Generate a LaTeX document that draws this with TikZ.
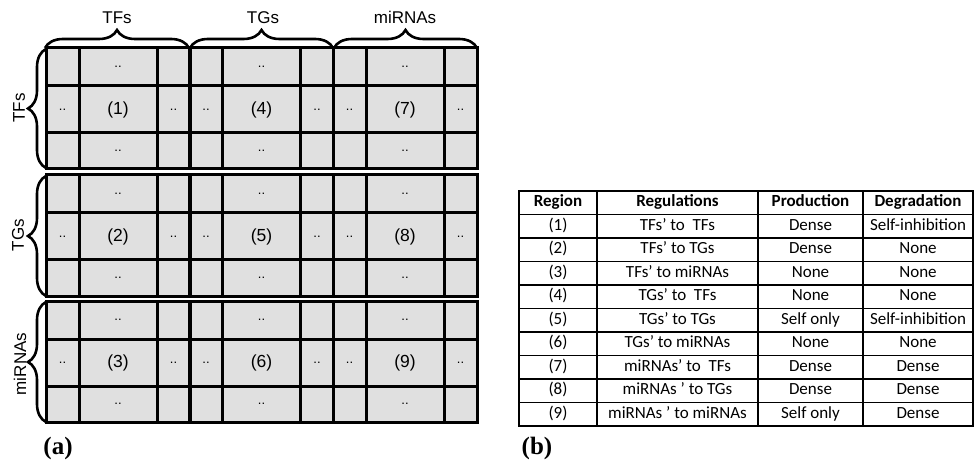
\documentclass[tikz,border=0pt]{standalone}
\usepackage{fontspec}
\setmainfont{Liberation Sans}
\newfontfamily\tabfont{Carlito}
\newfontfamily\capfont{Liberation Serif}
\usetikzlibrary{decorations.pathreplacing}
\definecolor{cellgray}{HTML}{E0E0E0}
\begin{document}
\begin{tikzpicture}[x=1pt,y=-1pt,
  gridline/.style={line width=3pt, black},
  dotlbl/.style={font=\fontsize{13}{13}\selectfont, inner sep=0pt},
  reglbl/.style={font=\fontsize{17.5}{17.5}\selectfont, inner sep=0pt},
  axlbl/.style={font=\fontsize{17}{17}\selectfont, inner sep=0pt},
  bracestyle/.style={decorate, decoration={brace, amplitude=18pt}, line width=2.6pt},
  tcell/.style={font=\tabfont\fontsize{17}{17}\selectfont, inner sep=0pt, text height=8.5pt, text depth=3pt},
  thead/.style={font=\tabfont\bfseries\fontsize{17}{17}\selectfont, inner sep=0pt, text height=8.5pt, text depth=3pt},
  tline/.style={line width=1.5pt, black},
  caplbl/.style={font=\capfont\bfseries\fontsize{25}{25}\selectfont, inner sep=0pt},
  ]
\useasboundingbox (0,0) rectangle (974,462);

% ---- grid (a) ----
\foreach \by [count=\r from 0] in {48,175,301} {
  \fill[cellgray] (46,\by) rectangle (477,\by+121);
  \foreach \bx [count=\c from 0] in {46,189.5,333} {
    \pgfmathtruncatemacro{\n}{\c*3+\r+1}
    \draw[gridline] (\bx,\by) rectangle (\bx+144,\by+121);
    \draw[gridline] (\bx+33,\by) -- (\bx+33,\by+121);
    \draw[gridline] (\bx+111,\by) -- (\bx+111,\by+121);
    \draw[gridline] (\bx,\by+38) -- (\bx+144,\by+38);
    \draw[gridline] (\bx,\by+85) -- (\bx+144,\by+85);
    \node[dotlbl] (dt-\r-\c) at (\bx+72,\by+19) {..};
    \node[dotlbl] (dl-\r-\c) at (\bx+16.5,\by+61.5) {..};
    \node[dotlbl] (dr-\r-\c) at (\bx+127.5,\by+61.5) {..};
    \node[dotlbl] (db-\r-\c) at (\bx+72,\by+103) {..};
    \node[reglbl] (rg-\r-\c) at (\bx+72,\by+61.5) {(\n)};
  }
}

% ---- braces ----
\draw[bracestyle] (45,48) -- (189,48);
\draw[bracestyle] (190,48) -- (333,48);
\draw[bracestyle] (334,48) -- (477,48);
\draw[bracestyle] (46,168) -- (46,49);
\draw[bracestyle] (46,296) -- (46,176);
\draw[bracestyle] (46,422) -- (46,302);

\node[axlbl] (tTF) at (117,18) {TFs};
\node[axlbl] (tTG) at (263,18) {TGs};
\node[axlbl] (tMI) at (405,17) {miRNAs};
\node[axlbl, rotate=90] (lTF) at (19,108) {TFs};
\node[axlbl, rotate=90] (lTG) at (18,235) {TGs};
\node[axlbl, rotate=90] (lMI) at (20,364) {miRNAs};

\node[caplbl] (capa) at (58,448) {(a)};
\node[caplbl] (capb) at (537,448) {(b)};

% ---- table (b) ----
\draw[tline] (519,191) rectangle (973,426);
\foreach \k in {1,...,9} {
  \draw[tline] (519,191+23.5*\k) -- (973,191+23.5*\k);
}
\foreach \xx in {597,758,863} {
  \draw[tline] (\xx,191) -- (\xx,426);
}
\node[thead] (h1) at (558,203.5) {Region};
\node[thead] (h2) at (677.5,203.5) {Regulations};
\node[thead] (h3) at (810.5,203.5) {Production};
\node[thead] (h4) at (918,203.5) {Degradation};
\foreach \rg/\regu/\prod/\degr [count=\k from 1] in {
  (1)/{TFs’ to~ TFs}/Dense/Self-inhibition,
  (2)/{TFs’ to TGs}/Dense/None,
  (3)/{TFs’ to miRNAs}/None/None,
  (4)/{TGs’ to~ TFs}/None/None,
  (5)/{TGs’ to TGs}/Self only/Self-inhibition,
  (6)/{TGs’ to miRNAs}/None/None,
  (7)/{miRNAs’ to~ TFs}/Dense/Dense,
  (8)/{miRNAs ’ to TGs}/Dense/Dense,
  (9)/{miRNAs ’ to miRNAs}/Self only/Dense} {
  \node[tcell] (c1-\k) at (558,191+23.5*\k+13) {\rg};
  \node[tcell] (c2-\k) at (677.5,191+23.5*\k+13) {\regu};
  \node[tcell] (c3-\k) at (810.5,191+23.5*\k+13) {\prod};
  \node[tcell] (c4-\k) at (918,191+23.5*\k+13) {\degr};
}
\end{tikzpicture}
\end{document}
